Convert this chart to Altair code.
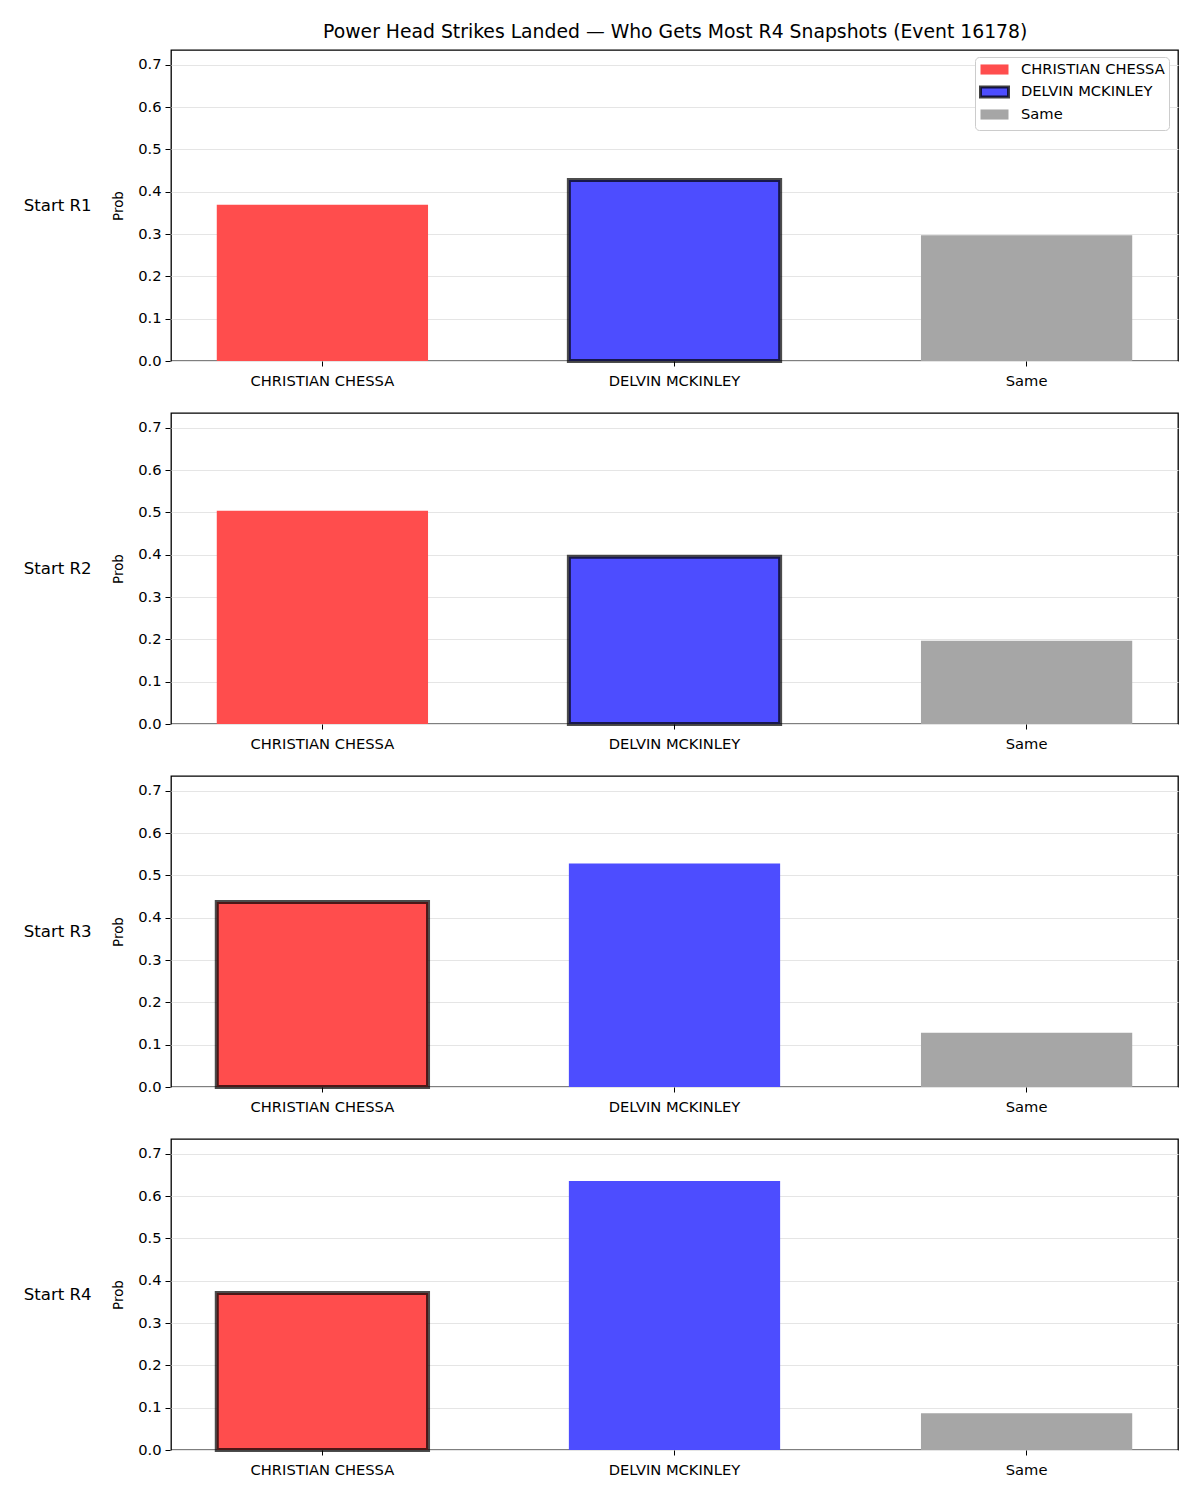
import altair as alt
import pandas as pd

# Probability that each side lands the most power head strikes in R4,
# taken at the start of each round.
rounds = ["Start R1", "Start R2", "Start R3", "Start R4"]
players = ["CHRISTIAN CHESSA", "DELVIN MCKINLEY", "Same"]
chessa = [0.369, 0.504, 0.437, 0.371]
mckinley = [0.428, 0.395, 0.528, 0.636]
same = [0.297, 0.197, 0.128, 0.087]
# side outlined in each snapshot
outlined = ["DELVIN MCKINLEY", "DELVIN MCKINLEY", "CHRISTIAN CHESSA", "CHRISTIAN CHESSA"]
colors = ["#ff4d4d", "#4d4dff", "#a6a6a6"]
y_ticks = [0.0, 0.1, 0.2, 0.3, 0.4, 0.5, 0.6, 0.7]

rows = []
for i, rnd in enumerate(rounds):
    for name, vals in zip(players, [chessa, mckinley, same]):
        rows.append({"round": rnd, "player": name, "prob": vals[i],
                     "highlight": name == outlined[i]})
df = pd.DataFrame(rows)

FONT = "DejaVu Sans"
TICK_FS = 14.7

bars = alt.Chart(df).mark_bar(strokeWidth=4, strokeOpacity=0.7).encode(
    x=alt.X("player:N", sort=players,
            scale=alt.Scale(paddingInner=0.4, paddingOuter=0.13),
            axis=alt.Axis(title=None, labelAngle=0, grid=False, domain=False,
                          tickColor="#000", tickSize=5, labelPadding=7,
                          labelFontSize=TICK_FS, labelColor="#000")),
    y=alt.Y("prob:Q",
            scale=alt.Scale(domain=[0, 0.735], nice=False, zero=True),
            axis=alt.Axis(title="Prob", values=y_ticks, format=".1f",
                          domain=False, tickColor="#000", tickSize=5,
                          labelPadding=4, labelFontSize=TICK_FS,
                          labelColor="#000", titleFontSize=13.4,
                          titleFontWeight="normal", titleColor="#000",
                          titlePadding=12, grid=True, gridColor="#e5e5e5",
                          gridWidth=1)),
    fill=alt.Fill("player:N",
                  scale=alt.Scale(domain=players, range=colors),
                  legend=alt.Legend(
                      title=None, orient="none", legendX=804, legendY=7,
                      labelFontSize=TICK_FS, labelColor="#000",
                      labelOffset=18, symbolOffset=7,
                      symbolType="M-2,-0.72H2V0.72H-2Z", symbolSize=196,
                      symbolOpacity=1, rowPadding=-0.5, padding=4,
                      strokeColor="#cccccc", cornerRadius=4,
                      fillColor="#ffffff",
                      symbolStrokeColor={"expr": "datum.value === 'DELVIN MCKINLEY' ? 'rgba(0,0,0,0.75)' : 'transparent'"},
                      symbolStrokeWidth=3)),
    stroke=alt.condition(alt.datum.highlight, alt.value("#000000"),
                         alt.value("transparent")),
).properties(width=1007, height=311)

chart = bars.facet(
    row=alt.Row("round:N", sort=rounds,
                header=alt.Header(title=None, labelAngle=0, labelOrient="left",
                                  labelAlign="left", labelFontSize=16.6,
                                  labelColor="#000", labelPadding=20,
                                  labelFont=FONT)),
    spacing=23,
    title=alt.TitleParams(
        "Power Head Strikes Landed \u2014 Who Gets Most R4 Snapshots (Event 16178)",
        fontSize=18.8, fontWeight="normal", font=FONT, color="#000",
        anchor="middle", offset=8, dx=74),
).resolve_axis(x="independent").configure(
    font=FONT, background="#ffffff",
).configure_view(
    stroke="#000000", strokeWidth=1.3,
).configure_axis(
    labelFont=FONT, titleFont=FONT,
).configure_legend(
    labelFont=FONT,
).properties(padding={"left": 23, "top": 22, "right": 20, "bottom": 20})

chart.save("out.html", embed_options={"renderer": "svg", "actions": False})
